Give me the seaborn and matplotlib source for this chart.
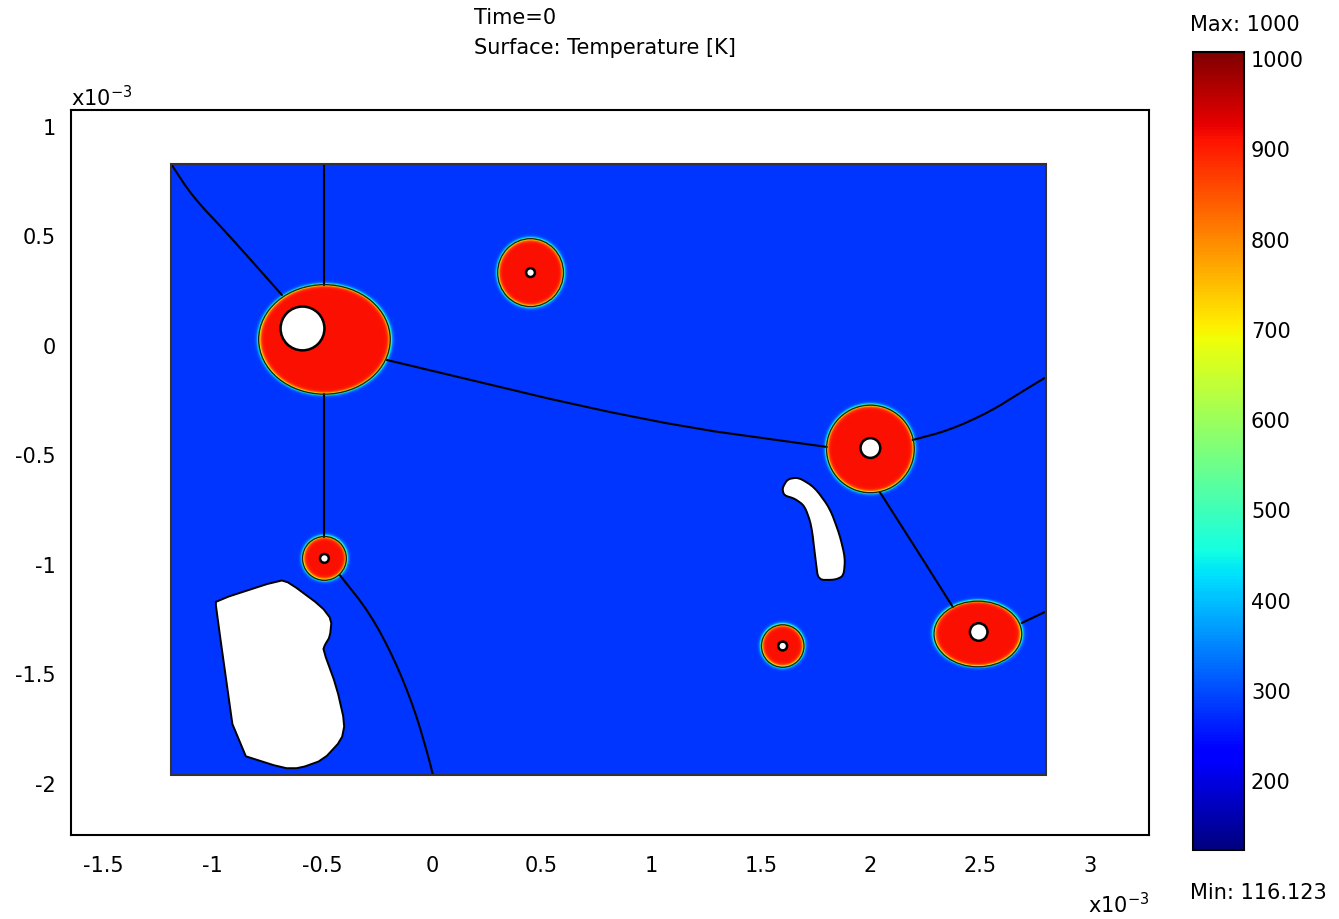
import numpy as np
import seaborn as sns
import matplotlib.pyplot as plt
import matplotlib.transforms as mtransforms
from matplotlib.patches import Polygon, Ellipse, Rectangle

# temperatures [K]
t_min = 116.123
t_max = 1000
t_init = 273.15
t_hot = 905
cbar_ticks = [200, 300, 400, 500, 600, 700, 800, 900, 1000]

# geometry in units of 1e-3 m
dom_x = [-1.19, 2.8]
dom_y = [-1.96, 0.83]

# hot inclusions (ellipses)
spot_x = [-0.49, 0.45, 2.0, 2.49, -0.49, 1.6]
spot_y = [0.03, 0.335, -0.47, -1.315, -0.97, -1.37]
spot_rx = [0.30, 0.15, 0.20, 0.20, 0.10, 0.097]
spot_ry = [0.25, 0.155, 0.20, 0.15, 0.10, 0.097]

# holes inside the inclusions
hole_x = [-0.59, 0.45, 2.0, 2.494, -0.49, 1.6]
hole_y = [0.08, 0.335, -0.466, -1.306, -0.97, -1.37]
hole_r = [0.10, 0.02, 0.045, 0.04, 0.02, 0.02]

# big void (lower left)
void1_x = [-0.985, -0.693, -0.648, -0.503, -0.457, -0.465, -0.488, -0.496, -0.435,
           -0.397, -0.412, -0.496, -0.602, -0.678, -0.891, -0.985]
void1_y = [-1.163, -1.068, -1.082, -1.190, -1.251, -1.327, -1.365, -1.388, -1.556,
           -1.723, -1.799, -1.890, -1.928, -1.928, -1.860, -1.190]

# crack shaped void
void2_x = [1.598, 1.622, 1.672, 1.745, 1.815, 1.860, 1.885, 1.878, 1.838, 1.762,
           1.751, 1.731, 1.700, 1.655, 1.606]
void2_y = [-0.650, -0.608, -0.600, -0.645, -0.741, -0.863, -0.969, -1.050, -1.068,
           -1.068, -0.985, -0.817, -0.730, -0.697, -0.682]

# grain boundaries
gb1_x = [-1.186, -1.09, -0.935, -0.684]
gb1_y = [0.826, 0.68, 0.516, 0.233]
gb2_x = [-0.49, -0.49]
gb2_y = [0.83, 0.28]
gb3_x = [-0.49, -0.49]
gb3_y = [-0.22, -0.87]
gb4_x = [-0.205, 0.98, 1.801]
gb4_y = [-0.064, -0.347, -0.461]
gb5_x = [2.193, 2.362, 2.544, 2.681, 2.795]
gb5_y = [-0.429, -0.384, -0.301, -0.215, -0.146]
gb6_x = [2.043, 2.212, 2.376]
gb6_y = [-0.667, -0.932, -1.192]
gb7_x = [2.690, 2.795]
gb7_y = [-1.265, -1.215]
gb8_x = [-0.420, -0.283, -0.169, -0.078, -0.018, 0.005]
gb8_y = [-1.046, -1.219, -1.434, -1.662, -1.868, -1.959]


def chaikin(x, y, closed=False, n=2, cut=0.25):
    # light corner cutting, just to round off the read-off outlines
    p = np.column_stack([x, y]).astype(float)
    for _ in range(n):
        q = np.roll(p, -1, axis=0) if closed else p[1:]
        a = p if closed else p[:-1]
        new = np.empty((2 * len(a), 2))
        new[0::2] = (1 - cut) * a + cut * q
        new[1::2] = cut * a + (1 - cut) * q
        if not closed:
            new = np.vstack([p[:1], new, p[-1:]])
        p = new
    return p


sns.set_theme(style="white")
plt.rcParams['font.family'] = ['DejaVu Sans']
plt.rcParams['font.size'] = 15
plt.rcParams['text.color'] = 'black'

try:
    cmap = sns.color_palette("jet", as_cmap=True)
except Exception:
    cmap = plt.get_cmap("jet")

# temperature field on the domain
gx = np.linspace(dom_x[0], dom_x[1], 1400)
gy = np.linspace(dom_y[0], dom_y[1], 980)
X, Y = np.meshgrid(gx, gy)
frac = np.zeros_like(X)
for cx, cy, rx, ry in zip(spot_x, spot_y, spot_rx, spot_ry):
    d = np.sqrt(((X - cx) / rx) ** 2 + ((Y - cy) / ry) ** 2)
    s = (d - 1) * 0.5 * (rx + ry)
    frac = np.maximum(frac, 0.5 * (1 - np.tanh(s / 0.009)))
T = t_init + (t_hot - t_init) * frac

fig = plt.figure(figsize=(13.39, 9.19), dpi=100)
ax = fig.add_axes([0.053, 0.0914, 0.805, 0.789])

im = ax.imshow(T, extent=[dom_x[0], dom_x[1], dom_y[0], dom_y[1]], origin='lower',
               cmap=cmap, vmin=t_min, vmax=t_max, aspect='auto',
               interpolation='bilinear', zorder=1)

for bx, by in [(gb1_x, gb1_y), (gb2_x, gb2_y), (gb3_x, gb3_y), (gb4_x, gb4_y),
               (gb5_x, gb5_y), (gb6_x, gb6_y), (gb7_x, gb7_y), (gb8_x, gb8_y)]:
    pts = chaikin(bx, by, n=2)
    sns.lineplot(x=pts[:, 0], y=pts[:, 1], sort=False, estimator=None, color='black',
                 lw=1.5, ax=ax, zorder=3)

for cx, cy, rx, ry in zip(spot_x, spot_y, spot_rx, spot_ry):
    ax.add_patch(Ellipse((cx, cy), 2 * rx, 2 * ry, fill=False, ec='#1a2a10',
                         lw=1.0, zorder=3))
for hx, hy, hr in zip(hole_x, hole_y, hole_r):
    ax.add_patch(Ellipse((hx, hy), 2 * hr, 2 * hr, fc='white', ec='black',
                         lw=1.8, zorder=4))

for vx, vy, nit in [(void1_x, void1_y, 1), (void2_x, void2_y, 2)]:
    ax.add_patch(Polygon(chaikin(vx, vy, closed=True, n=nit, cut=0.2), closed=True,
                         fc='white', ec='black', lw=1.4, zorder=4))
ax.add_patch(Rectangle((dom_x[0], dom_y[0]), dom_x[1] - dom_x[0], dom_y[1] - dom_y[0],
                       fill=False, ec='#333333', lw=1.5, zorder=5))

ax.set_xlim(-1.646, 3.27)
ax.set_ylim(-2.233, 1.078)
ax.set_xticks([-1.5, -1, -0.5, 0, 0.5, 1, 1.5, 2, 2.5, 3])
ax.set_xticklabels(['-1.5', '-1', '-0.5', '0', '0.5', '1', '1.5', '2', '2.5', '3'])
ax.set_yticks([-2, -1.5, -1, -0.5, 0, 0.5, 1])
ax.set_yticklabels(['-2', '-1.5', '-1', '-0.5', '0', '0.5', '1'])
ax.tick_params(axis='x', length=0, pad=15, labelsize=15, colors='black')
ax.tick_params(axis='y', length=0, pad=11, labelsize=15, colors='black')
ax.set_xlabel('')
ax.set_ylabel('')
for sp in ax.spines.values():
    sp.set_visible(True)
    sp.set_color('black')
    sp.set_linewidth(1.5)

ax.text(0.0, 1.0, r'x10$^{-3}$', transform=ax.transAxes, ha='left', va='bottom',
        fontsize=15)
fig.text(1088 / 1339, 1 - 905 / 919, r'x10$^{-3}$', ha='left', va='center', fontsize=15)

fig.text(0.354, 1 - 18 / 919, 'Time=0', ha='left', va='center', fontsize=15)
fig.text(0.354, 1 - 48 / 919, 'Surface: Temperature [K]', ha='left', va='center',
         fontsize=15)

cax = fig.add_axes([0.891, 0.0751, 0.038, 0.8683])
cb = fig.colorbar(im, cax=cax, ticks=cbar_ticks)
cb.outline.set_linewidth(1.5)
cb.outline.set_edgecolor('black')
cax.tick_params(direction='in', length=6, width=1.2, left=True, right=True,
                labelleft=False, labelright=True, labelsize=15, pad=5, colors='black')
shift = mtransforms.ScaledTranslation(0, -7 / 100, fig.dpi_scale_trans)
for lab in cax.get_yticklabels():
    lab.set_transform(lab.get_transform() + shift)
fig.text(0.889, 1 - 25 / 919, 'Max: 1000', ha='left', va='center', fontsize=15)
fig.text(0.889, 1 - 893 / 919, 'Min: 116.123', ha='left', va='center', fontsize=15)

fig.savefig('out.png', dpi=100)
